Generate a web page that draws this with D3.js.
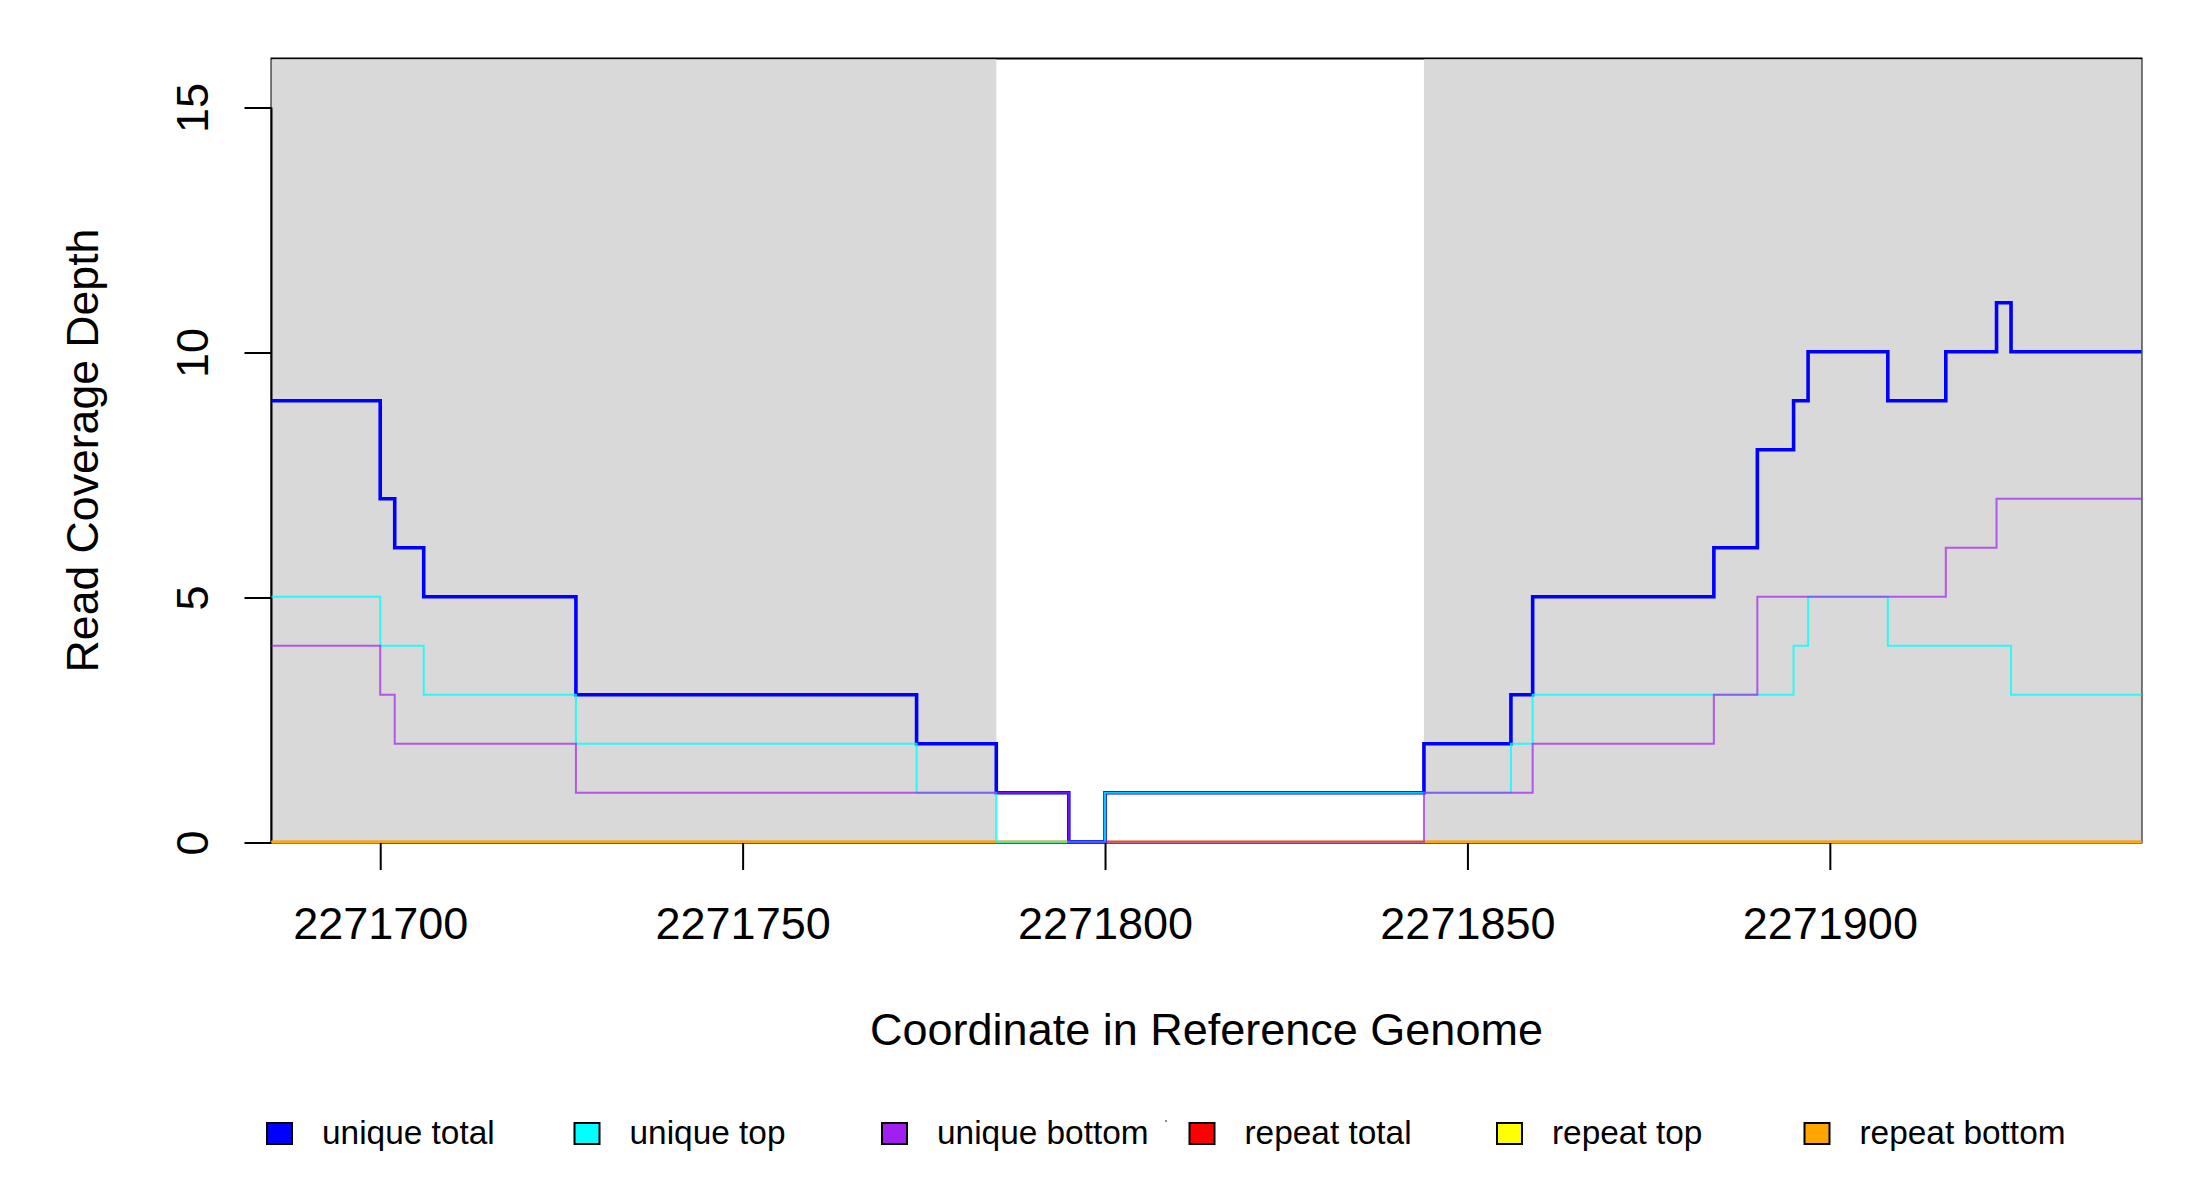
<!DOCTYPE html>
<html>
<head>
<meta charset="utf-8">
<script src="https://cdn.jsdelivr.net/npm/d3@7"></script>
<style>
  html, body { margin: 0; padding: 0; background: #fff; }
  svg { display: block; }
  text { font-family: "Liberation Sans", Arial, Helvetica, sans-serif; fill: #000; }
</style>
</head>
<body>
<svg id="chart" width="2200" height="1200"></svg>
<script>
// ---- data (step changes: [coordinate, depth from this coordinate on]) ----
const xDomain = [2271685, 2271943];
const yDomain = [0, 16];
const xTicks = [2271700, 2271750, 2271800, 2271850, 2271900];
const yTicks = [0, 5, 10, 15];
const shadedRegions = [[2271685, 2271785], [2271844, 2271943]];

const uniqueTotal = [[2271685, 9], [2271700, 7], [2271702, 6], [2271706, 5], [2271727, 3], [2271774, 2],
  [2271785, 1], [2271795, 0], [2271800, 1], [2271844, 2], [2271856, 3], [2271859, 5], [2271884, 6],
  [2271890, 8], [2271895, 9], [2271897, 10], [2271908, 9], [2271916, 10], [2271923, 11], [2271925, 10]];
const uniqueTop = [[2271685, 5], [2271700, 4], [2271706, 3], [2271727, 2], [2271774, 1], [2271785, 0],
  [2271800, 1], [2271856, 2], [2271859, 3], [2271895, 4], [2271897, 5], [2271908, 4], [2271925, 3]];
const uniqueBottom = [[2271685, 4], [2271700, 3], [2271702, 2], [2271727, 1], [2271795, 0], [2271844, 1],
  [2271859, 2], [2271884, 3], [2271890, 5], [2271916, 6], [2271923, 7]];
const repeatTotal = [[2271685, 0]];
const repeatTop = [[2271685, 0]];
const repeatBottom = [[2271685, 0]];

const legendLabels = ["unique total", "unique top", "unique bottom", "repeat total", "repeat top", "repeat bottom"];
const legendColors = ["#0000FF", "#00FFFF", "#A020F0", "#FF0000", "#FFFF00", "#FFA500"];

const xTitle = "Coordinate in Reference Genome";
const yTitle = "Read Coverage Depth";

// ---- layout ----
const svg = d3.select("#chart");
const L = 271.5, R = 2141.5, T = 58.5, B = 842.5;
const x = d3.scaleLinear().domain(xDomain).range([L, R]);
const y = d3.scaleLinear().domain(yDomain).range([B, T]);

// plot box
svg.append("rect").attr("x", L).attr("y", T).attr("width", R - L).attr("height", B - T)
  .attr("fill", "none").attr("stroke", "#000").attr("stroke-width", 2);

// shaded regions
svg.append("g").selectAll("rect").data(shadedRegions).join("rect")
  .attr("x", d => x(d[0])).attr("width", d => x(d[1]) - x(d[0]))
  .attr("y", T + 0.8).attr("height", B - T - 0.8)
  .attr("fill", "#D9D9D9");

// x axis
const xAxis = d3.axisBottom(x).tickValues(xTicks).tickSize(27.5).tickSizeOuter(0).tickFormat(d3.format("d"));
const gx = svg.append("g").attr("transform", `translate(0,${B})`).call(xAxis);
gx.select(".domain").attr("d", `M${x(xTicks[0])},0H${x(xTicks[xTicks.length - 1])}`)
  .attr("stroke", "#333").attr("stroke-width", 2);
gx.selectAll(".tick line").attr("stroke", "#000").attr("stroke-width", 2);
gx.selectAll(".tick text").attr("y", 0).attr("dy", null)
  .attr("transform", "translate(0,96.5)")
  .style("font-size", "45px").style("font-family", '"Liberation Sans", Arial, sans-serif')
  .attr("fill", "#000");

// y axis
const yAxis = d3.axisLeft(y).tickValues(yTicks).tickSize(27).tickSizeOuter(0).tickFormat(d3.format("d"));
const gy = svg.append("g").attr("transform", `translate(${L},0)`).call(yAxis);
gy.select(".domain").attr("d", `M0,${y(yTicks[0])}V${y(yTicks[yTicks.length - 1])}`)
  .attr("stroke", "#000").attr("stroke-width", 2);
gy.selectAll(".tick line").attr("stroke", "#000").attr("stroke-width", 2);
gy.selectAll(".tick text")
  .attr("x", null).attr("dy", null)
  .attr("transform", `translate(${208 - L},0) rotate(-90)`)
  .attr("text-anchor", "middle")
  .style("font-size", "45px").style("font-family", '"Liberation Sans", Arial, sans-serif')
  .attr("fill", "#000");

// step lines (drawn over the axes, as in the reference)
function stepPoints(series) {
  const pts = series.slice();
  pts.push([xDomain[1], series[series.length - 1][1]]);
  return pts;
}
const line = d3.line().x(d => x(d[0])).y(d => y(d[1])).curve(d3.curveStepAfter);

const seriesDefs = [
  { data: repeatTotal, color: legendColors[3], w: 2, op: 1 },
  { data: repeatTop, color: legendColors[4], w: 2, op: 1 },
  { data: repeatBottom, color: legendColors[5], w: 2, op: 1 },
  { data: uniqueTotal, color: legendColors[0], w: 3.6, op: 1 },
  { data: uniqueTop, color: legendColors[1], w: 2, op: 0.8 },
  { data: uniqueBottom, color: legendColors[2], w: 2, op: 0.7 }
];
svg.append("g").selectAll("path").data(seriesDefs).join("path")
  .attr("d", d => line(stepPoints(d.data)))
  .attr("fill", "none")
  .attr("stroke", d => d.color)
  .attr("stroke-width", d => d.w)
  .attr("stroke-opacity", d => d.op)
  .attr("stroke-linejoin", "miter")
  .attr("stroke-linecap", "butt")
  .attr("transform", "translate(0,-0.8)");

// axis titles
svg.append("text").attr("x", (L + R) / 2).attr("y", 1045)
  .attr("text-anchor", "middle").style("font-size", "45px").text(xTitle);
svg.append("text").attr("transform", `translate(98,${(T + B) / 2}) rotate(-90)`)
  .attr("text-anchor", "middle").style("font-size", "44.6px").text(yTitle);

// legend
const lg = svg.append("g").selectAll("g").data(legendLabels).join("g")
  .attr("transform", (d, i) => `translate(${267 + i * 307.5},1123)`);
lg.append("rect").attr("width", 25).attr("height", 21)
  .attr("fill", (d, i) => legendColors[i]).attr("stroke", "#000").attr("stroke-width", 2);
lg.append("text").attr("x", 55).attr("y", 21).style("font-size", "33.4px").text(d => d);

// small stray mark seen in the reference legend
svg.append("circle").attr("cx", 1166).attr("cy", 1121).attr("r", 1).attr("fill", "#666");
</script>
</body>
</html>
